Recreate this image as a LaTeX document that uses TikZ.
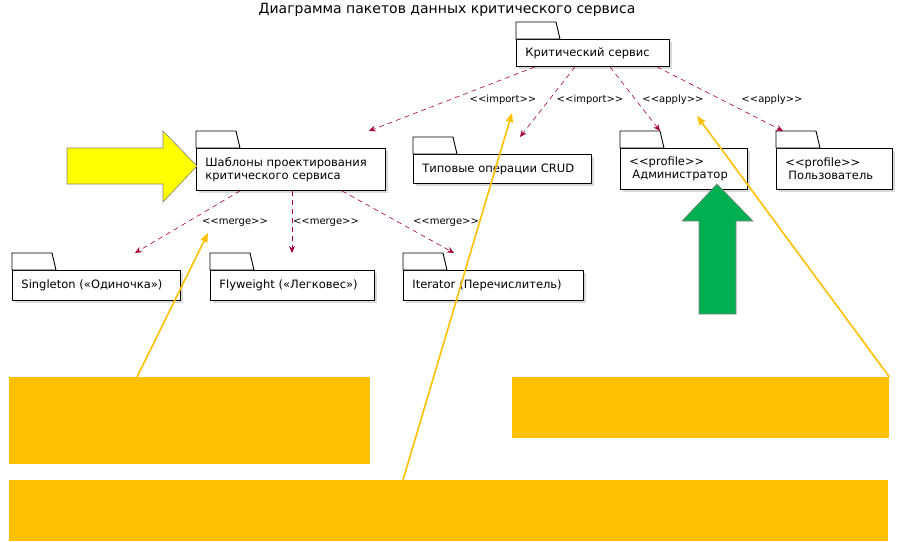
\documentclass[tikz,border=0pt]{standalone}
\usepackage{fontspec}
\setmainfont{DejaVu Sans}
\usetikzlibrary{arrows.meta,calc,shadows}
\definecolor{depred}{HTML}{A80036}
\definecolor{notegold}{HTML}{FFC000}
\definecolor{hintgreen}{HTML}{00B050}
\definecolor{hintyellow}{HTML}{FFFF00}
\newcommand{\stereo}[1]{<{}<#1>{}>}
\tikzset{
  pkg/.style={rectangle, draw, line width=0.9pt, fill=white, anchor=north west, align=left,
    inner xsep=9pt, inner ysep=0pt, font=\fontsize{11.5}{13}\selectfont,
    drop shadow={shadow xshift=2.5pt, shadow yshift=-2.5pt, opacity=0.3}},
  pkgtab/.style={draw, line width=0.9pt, fill=white},
  dep/.style={draw=depred, line width=0.6pt, dash pattern=on 5pt off 4pt,
    -{Stealth[length=7pt,width=6pt,inset=2.5pt]}},
  lbl/.style={font=\fontsize{10}{12}\selectfont, inner sep=1pt},
  note/.style={rectangle, fill=notegold, anchor=north west, inner sep=0pt},
  hint/.style={draw=notegold, line width=1.6pt, -{Triangle[length=9pt,width=7pt]}}
}
\begin{document}
\begin{tikzpicture}[x=1pt,y=-1pt]
    \useasboundingbox (0,0) rectangle (905,541);
    \node (title) at (447,10) {\fontsize{14}{16}\selectfont Диаграмма пакетов данных критического сервиса};

    \node (crit) [pkg, text width=135pt, minimum height=27pt] at (516,39) {Критический сервис};
    \node (shab) [pkg, text width=171pt, minimum height=42pt] at (196,148) {Шаблоны проектирования\\критического сервиса};
    \node (typ) [pkg, text width=160pt, minimum height=29pt] at (413,154) {Типовые операции CRUD};
    \node (admin) [pkg, text width=109pt, minimum height=41pt] at (620,148) {\stereo{profile}\\\hspace*{3pt}Администратор};
    \node (user) [pkg, text width=98pt, minimum height=41pt] at (776,148) {\stereo{profile}\\\hspace*{3pt}Пользователь};
    \node (single) [pkg, text width=150pt, minimum height=30pt] at (12,270) {Singleton («Одиночка»)};
    \node (fly) [pkg, text width=146pt, minimum height=30pt] at (210,270) {Flyweight («Легковес»)};
    \node (iter) [pkg, text width=162pt, minimum height=30pt] at (403,270) {Iterator (Перечислитель)};

    \foreach \p in {crit,shab,typ,admin,user,single,fly,iter}
        \draw [pkgtab] (\p.north west) -- ++(0,-17) -- ++(40,0) -- ++(4,17) -- cycle;

    \node (imp1) [lbl] at (503,100) {\stereo{import}};
    \node (imp2) [lbl] at (590,100) {\stereo{import}};
    \node (app1) [lbl] at (673,100) {\stereo{apply}};
    \node (app2) [lbl] at (772,100) {\stereo{apply}};
    \node (mrg1) [lbl] at (235,223) {\stereo{merge}};
    \node (mrg2) [lbl] at (326,223) {\stereo{merge}};
    \node (mrg3) [lbl] at (446,223) {\stereo{merge}};

    \draw [dep] ($(crit.south west)+(19,0)$) -- ($(shab.north east)+(-17,-17)$);
    \draw [dep] ($(crit.south west)+(59,0)$) -- ($(typ.north west)+(107,-17)$);
    \draw [dep] ($(crit.south west)+(94,0)$) -- ($(admin.north west)+(40,-17)$);
    \draw [dep] ($(crit.south west)+(141,0)$) -- ($(user.north west)+(7,-17)$);
    \draw [dep] ($(shab.south west)+(44,0)$) -- ($(single.north west)+(123,-17)$);
    \draw [dep] ($(shab.south west)+(96,0)$) -- ($(fly.north west)+(82,-17)$);
    \draw [dep] ($(shab.south west)+(146,0)$) -- ($(iter.north west)+(51,-17)$);

    \node (noteA) [note, minimum width=361pt, minimum height=87pt] at (9,377) {};
    \node (noteB) [note, minimum width=377pt, minimum height=61pt] at (512,377) {};
    \node (noteC) [note, minimum width=879pt, minimum height=61pt] at (9,480) {};

    \draw [hint] ($(noteA.north west)+(128,0)$) -- ($(mrg1.center)+(-27,10)$);
    \draw [hint] ($(noteC.north west)+(394,0)$) -- ($(imp1.center)+(9,13)$);
    \draw [hint] (noteB.north east) -- ($(app1.center)+(24,16)$);

    \filldraw [fill=hintyellow, draw=gray, line width=0.6pt] (67,148) -- (163,148) -- (163,131) -- (197,166)
        -- (163,202) -- (163,184) -- (67,184) -- cycle;
    \filldraw [fill=hintgreen, draw=gray, line width=0.6pt] (699,314) -- (699,221) -- (682,221) -- (717,184)
        -- (753,221) -- (736,221) -- (736,314) -- cycle;
\end{tikzpicture}
\end{document}
